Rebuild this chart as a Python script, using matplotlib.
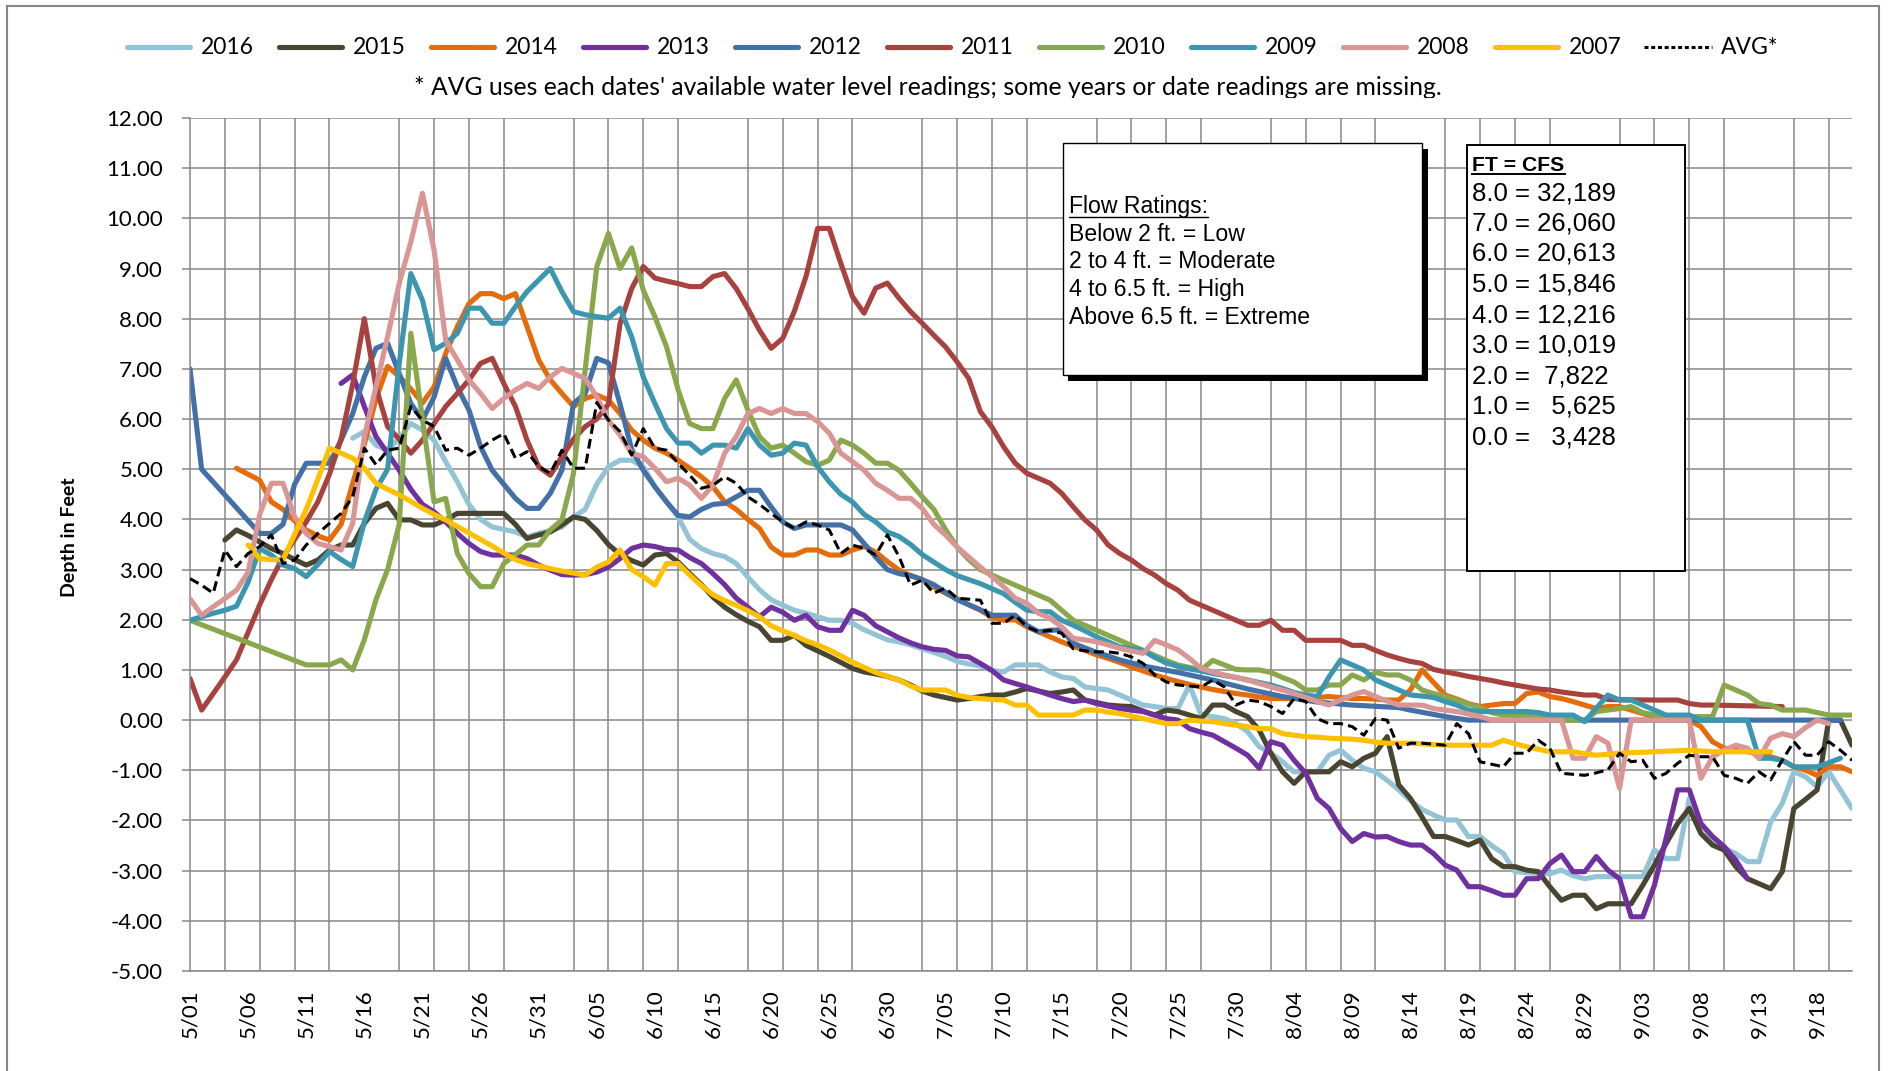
import matplotlib
matplotlib.use("Agg")
import matplotlib.pyplot as plt
from matplotlib.lines import Line2D
from matplotlib.patches import Rectangle
from matplotlib.ticker import MultipleLocator, FormatStrFormatter
from matplotlib.transforms import Bbox, TransformedBbox

plt.rcParams['font.family'] = ['Lato', 'DejaVu Sans']

W, H = 1889, 1071

# x = days after 5/01
tick_days = list(range(0, 141, 5))
tick_labels = ["5/01", "5/06", "5/11", "5/16", "5/21", "5/26", "5/31", "6/05", "6/10",
               "6/15", "6/20", "6/25", "6/30", "7/05", "7/10", "7/15", "7/20", "7/25",
               "7/30", "8/04", "8/09", "8/14", "8/19", "8/24", "8/29", "9/03", "9/08",
               "9/13", "9/18"]

# (day, depth in feet)
s2016 = [(14, 5.62), (15, 5.75), (16, 5.48), (17, 5.38), (18, 5.62), (19, 5.91), (20, 5.78),
         (21, 5.58), (22, 5.15), (23, 4.75), (24, 4.3), (25, 4.0), (26, 3.85), (27, 3.8),
         (28, 3.75), (29, 3.65), (30, 3.72), (31, 3.78), (32, 3.85), (33, 4.05), (34, 4.2),
         (35, 4.7), (36, 5.05), (37, 5.18), (38, 5.18), (39, 5.05), (40, 4.65), (41, 4.35),
         (42, 4.05), (43, 3.6), (44, 3.42), (45, 3.32), (46, 3.26), (47, 3.12), (48, 2.85),
         (49, 2.6), (50, 2.4), (51, 2.29), (52, 2.19), (53, 2.13), (54, 2.06), (55, 1.99),
         (56, 1.99), (57, 1.93), (58, 1.8), (59, 1.7), (60, 1.6), (61, 1.56), (62, 1.5),
         (63, 1.42), (64, 1.35), (65, 1.27), (66, 1.17), (67, 1.12), (68, 1.08), (69, 0.99),
         (70, 0.96), (71, 1.1), (72, 1.1), (73, 1.1), (74, 0.96), (75, 0.86), (76, 0.83),
         (77, 0.66), (78, 0.63), (79, 0.6), (80, 0.5), (81, 0.4), (82, 0.3), (83, 0.27),
         (84, 0.23), (85, 0.23), (86, 0.7), (87, 0.1), (88, 0.07), (89, 0.03), (90, -0.07),
         (91, -0.23), (92, -0.53), (93, -0.66), (94, -0.83), (95, -1.03), (96, -1.03),
         (97, -1.03), (98, -0.7), (99, -0.6), (100, -0.8), (101, -0.96), (102, -1.03),
         (103, -1.2), (104, -1.39), (105, -1.6), (106, -1.78), (107, -1.89), (108, -1.99),
         (109, -1.99), (110, -2.32), (111, -2.32), (112, -2.5), (113, -2.66), (114, -3.02),
         (115, -3.04), (116, -3.06), (117, -3.06), (118, -2.99), (119, -3.1), (120, -3.16),
         (121, -3.12), (122, -3.12), (123, -3.12), (124, -3.12), (125, -3.12), (126, -2.59),
         (127, -2.76), (128, -2.76), (129, -1.56), (130, -2.06), (131, -2.39), (132, -2.55),
         (133, -2.66), (134, -2.82), (135, -2.82), (136, -2.03), (137, -1.66), (138, -1.03),
         (139, -1.13), (140, -1.33), (141, -1.03), (142, -1.39), (143, -1.76)]

s2015 = [(3, 3.59), (4, 3.79), (5, 3.68), (6, 3.55), (7, 3.42), (8, 3.32), (9, 3.2), (10, 3.09),
         (11, 3.19), (12, 3.39), (13, 3.49), (14, 3.49), (15, 3.92), (16, 4.22), (17, 4.32),
         (18, 3.99), (19, 3.99), (20, 3.89), (21, 3.89), (22, 3.99), (23, 4.12), (24, 4.12),
         (25, 4.12), (26, 4.12), (27, 4.12), (28, 3.9), (29, 3.62), (30, 3.69), (31, 3.75),
         (32, 3.89), (33, 4.05), (34, 4.0), (35, 3.78), (36, 3.5), (37, 3.3), (38, 3.18),
         (39, 3.09), (40, 3.29), (41, 3.32), (42, 3.15), (43, 2.92), (44, 2.7), (45, 2.45),
         (46, 2.25), (47, 2.1), (48, 1.97), (49, 1.86), (50, 1.59), (51, 1.59), (52, 1.69),
         (53, 1.49), (54, 1.38), (55, 1.27), (56, 1.15), (57, 1.03), (58, 0.96), (59, 0.92),
         (60, 0.87), (61, 0.8), (62, 0.7), (63, 0.58), (64, 0.5), (65, 0.45), (66, 0.4),
         (67, 0.43), (68, 0.47), (69, 0.5), (70, 0.5), (71, 0.56), (72, 0.63), (73, 0.58),
         (74, 0.53), (75, 0.56), (76, 0.6), (77, 0.4), (78, 0.35), (79, 0.3), (80, 0.28),
         (81, 0.27), (82, 0.18), (83, 0.1), (84, 0.2), (85, 0.17), (86, 0.1), (87, 0.03),
         (88, 0.3), (89, 0.3), (90, 0.17), (91, 0.07), (92, -0.2), (93, -0.66), (94, -1.03),
         (95, -1.26), (96, -1.03), (97, -1.03), (98, -1.03), (99, -0.83), (100, -0.93),
         (101, -0.76), (102, -0.66), (103, -0.33), (104, -1.29), (105, -1.56), (106, -1.93),
         (107, -2.32), (108, -2.32), (109, -2.4), (110, -2.49), (111, -2.39), (112, -2.76),
         (113, -2.92), (114, -2.92), (115, -2.99), (116, -3.02), (117, -3.32), (118, -3.59),
         (119, -3.49), (120, -3.49), (121, -3.76), (122, -3.66), (123, -3.66), (124, -3.66),
         (125, -3.29), (126, -2.89), (127, -2.46), (128, -2.06), (129, -1.76), (130, -2.26),
         (131, -2.49), (132, -2.59), (133, -2.92), (134, -3.16), (135, -3.26), (136, -3.36),
         (137, -3.02), (138, -1.76), (139, -1.58), (140, -1.39), (141, 0.0), (142, 0.0),
         (143, -0.5)]

s2014 = [(4, 5.02), (5, 4.9), (6, 4.78), (7, 4.35), (8, 4.2), (9, 3.97), (10, 3.79), (11, 3.67),
         (12, 3.59), (13, 3.9), (14, 4.72), (15, 5.5), (16, 6.4), (17, 7.05), (18, 6.85),
         (19, 6.6), (20, 6.32), (21, 6.64), (22, 7.31), (23, 7.84), (24, 8.3), (25, 8.5),
         (26, 8.5), (27, 8.4), (28, 8.5), (29, 7.84), (30, 7.18), (31, 6.78), (32, 6.51),
         (33, 6.25), (34, 6.41), (35, 6.48), (36, 6.38), (37, 6.11), (38, 5.78), (39, 5.58),
         (40, 5.42), (41, 5.32), (42, 5.18), (43, 5.02), (44, 4.85), (45, 4.65), (46, 4.35),
         (47, 4.2), (48, 4.0), (49, 3.82), (50, 3.45), (51, 3.29), (52, 3.29), (53, 3.39),
         (54, 3.39), (55, 3.29), (56, 3.29), (57, 3.39), (58, 3.46), (59, 3.35), (60, 3.16),
         (61, 2.99), (62, 2.88), (63, 2.8), (64, 2.65), (65, 2.53), (66, 2.42), (67, 2.3),
         (68, 2.19), (69, 2.05), (70, 1.99), (71, 2.0), (72, 1.86), (73, 1.76), (74, 1.66),
         (75, 1.56), (76, 1.47), (77, 1.39), (78, 1.3), (79, 1.23), (80, 1.15), (81, 1.06),
         (82, 0.98), (83, 0.9), (84, 0.83), (85, 0.77), (86, 0.71), (87, 0.66), (88, 0.61),
         (89, 0.57), (90, 0.53), (91, 0.5), (92, 0.46), (93, 0.43), (94, 0.43), (95, 0.43),
         (96, 0.43), (97, 0.45), (98, 0.47), (99, 0.45), (100, 0.43), (101, 0.43), (102, 0.42),
         (103, 0.4), (104, 0.4), (105, 0.6), (106, 1.0), (107, 0.75), (108, 0.5), (109, 0.42),
         (110, 0.33), (111, 0.27), (112, 0.3), (113, 0.33), (114, 0.33), (115, 0.53),
         (116, 0.56), (117, 0.47), (118, 0.43), (119, 0.37), (120, 0.3), (121, 0.23),
         (122, 0.27), (123, 0.27), (124, 0.2), (125, 0.13), (126, 0.07), (127, 0.04),
         (128, 0.02), (129, 0.0), (130, -0.13), (131, -0.43), (132, -0.56), (133, -0.6),
         (134, -0.63), (135, -0.66), (136, -0.73), (137, -0.8), (138, -0.93), (139, -1.0),
         (140, -1.1), (141, -0.93), (142, -0.93), (143, -1.03)]

s2013 = [(13, 6.71), (14, 6.88), (15, 6.25), (16, 5.65), (17, 5.32), (18, 4.98), (19, 4.6),
         (20, 4.3), (21, 4.15), (22, 3.95), (23, 3.72), (24, 3.52), (25, 3.36), (26, 3.29),
         (27, 3.29), (28, 3.29), (29, 3.22), (30, 3.09), (31, 2.99), (32, 2.9), (33, 2.89),
         (34, 2.9), (35, 2.95), (36, 3.05), (37, 3.22), (38, 3.42), (39, 3.49), (40, 3.46),
         (41, 3.4), (42, 3.39), (43, 3.24), (44, 3.12), (45, 2.92), (46, 2.7), (47, 2.43),
         (48, 2.25), (49, 2.06), (50, 2.25), (51, 2.15), (52, 1.99), (53, 2.09), (54, 1.86),
         (55, 1.79), (56, 1.79), (57, 2.19), (58, 2.09), (59, 1.88), (60, 1.76), (61, 1.64),
         (62, 1.54), (63, 1.46), (64, 1.41), (65, 1.39), (66, 1.28), (67, 1.26), (68, 1.13),
         (69, 0.99), (70, 0.8), (71, 0.73), (72, 0.66), (73, 0.58), (74, 0.5), (75, 0.43),
         (76, 0.37), (77, 0.4), (78, 0.33), (79, 0.28), (80, 0.23), (81, 0.2), (82, 0.17),
         (83, 0.1), (84, 0.03), (85, 0.0), (86, -0.17), (87, -0.24), (88, -0.3), (89, -0.43),
         (90, -0.56), (91, -0.7), (92, -0.96), (93, -0.43), (94, -0.5), (95, -0.8),
         (96, -1.06), (97, -1.56), (98, -1.76), (99, -2.16), (100, -2.42), (101, -2.26),
         (102, -2.33), (103, -2.32), (104, -2.42), (105, -2.49), (106, -2.49), (107, -2.66),
         (108, -2.89), (109, -2.99), (110, -3.32), (111, -3.32), (112, -3.4), (113, -3.49),
         (114, -3.49), (115, -3.16), (116, -3.16), (117, -2.86), (118, -2.69), (119, -3.02),
         (120, -3.02), (121, -2.72), (122, -2.99), (123, -3.16), (124, -3.92), (125, -3.92),
         (126, -3.29), (127, -2.36), (128, -1.39), (129, -1.39), (130, -2.06), (131, -2.32),
         (132, -2.52), (133, -2.79), (134, -3.16)]

s2012 = [(0, 7.0), (1, 5.0), (6, 3.72), (7, 3.72), (8, 3.9), (9, 4.7), (10, 5.12), (11, 5.12),
         (12, 5.12), (13, 5.58), (14, 6.11), (15, 6.84), (16, 7.41), (17, 7.51), (18, 6.91),
         (19, 6.31), (20, 5.98), (21, 6.44), (22, 7.21), (23, 6.64), (24, 6.18), (25, 5.45),
         (26, 4.98), (27, 4.7), (28, 4.42), (29, 4.22), (30, 4.22), (31, 4.52), (32, 4.98),
         (33, 6.31), (34, 6.51), (35, 7.21), (36, 7.12), (37, 6.3), (38, 5.4), (39, 4.98),
         (40, 4.65), (41, 4.35), (42, 4.08), (43, 4.05), (44, 4.2), (45, 4.3), (46, 4.32),
         (47, 4.45), (48, 4.58), (49, 4.58), (50, 4.25), (51, 3.95), (52, 3.82), (53, 3.89),
         (54, 3.89), (55, 3.89), (56, 3.89), (57, 3.79), (58, 3.52), (59, 3.25), (60, 3.0),
         (61, 2.92), (62, 2.88), (63, 2.8), (64, 2.7), (65, 2.55), (66, 2.4), (67, 2.3),
         (68, 2.2), (69, 2.09), (70, 2.09), (71, 2.09), (72, 1.89), (73, 1.76), (74, 1.79),
         (75, 1.8), (76, 1.53), (78, 1.35), (80, 1.2), (82, 1.08), (85, 0.95), (88, 0.8),
         (91, 0.62), (94, 0.47), (97, 0.36), (100, 0.3), (104, 0.25), (105, 0.2), (108, 0.07),
         (110, 0.0), (142, 0.0)]

s2011 = [(0, 0.83), (1, 0.2), (2, 0.53), (3, 0.86), (4, 1.2), (5, 1.75), (6, 2.3), (7, 2.8),
         (8, 3.25), (9, 3.6), (10, 3.95), (11, 4.35), (12, 4.9), (13, 5.6), (14, 6.7), (15, 8.0),
         (16, 6.64), (17, 5.85), (18, 5.6), (19, 5.32), (20, 5.58), (21, 5.91), (22, 6.25),
         (23, 6.51), (24, 6.78), (25, 7.11), (26, 7.21), (27, 6.71), (28, 6.25), (29, 5.58),
         (30, 5.05), (31, 4.88), (32, 5.25), (33, 5.6), (34, 5.85), (35, 6.0), (36, 6.3),
         (37, 7.9), (38, 8.6), (39, 9.04), (40, 8.81), (41, 8.75), (42, 8.7), (43, 8.64),
         (44, 8.64), (45, 8.84), (46, 8.9), (47, 8.6), (48, 8.2), (49, 7.77), (50, 7.41),
         (51, 7.61), (52, 8.15), (53, 8.84), (54, 9.8), (55, 9.8), (56, 9.1), (57, 8.44),
         (58, 8.11), (59, 8.61), (60, 8.71), (61, 8.41), (62, 8.14), (63, 7.91), (64, 7.67),
         (65, 7.44), (66, 7.14), (67, 6.81), (68, 6.15), (69, 5.84), (70, 5.45), (71, 5.12),
         (72, 4.92), (73, 4.82), (74, 4.72), (75, 4.52), (76, 4.25), (77, 3.99), (78, 3.79),
         (79, 3.49), (80, 3.32), (81, 3.19), (82, 3.02), (83, 2.89), (84, 2.72), (85, 2.59),
         (86, 2.39), (87, 2.29), (88, 2.19), (89, 2.09), (90, 1.99), (91, 1.89), (92, 1.89),
         (93, 1.99), (94, 1.79), (95, 1.79), (96, 1.59), (97, 1.59), (98, 1.59), (99, 1.59),
         (100, 1.49), (101, 1.49), (102, 1.39), (103, 1.3), (104, 1.23), (105, 1.17),
         (106, 1.13), (107, 1.01), (108, 0.96), (109, 0.92), (110, 0.87), (111, 0.83),
         (112, 0.79), (113, 0.74), (114, 0.7), (115, 0.66), (116, 0.62), (117, 0.6),
         (118, 0.56), (119, 0.53), (120, 0.5), (121, 0.5), (122, 0.41), (126, 0.4), (128, 0.4),
         (129, 0.33), (130, 0.3), (131, 0.3), (137, 0.27)]

s2010 = [(0, 1.99), (10, 1.1), (11, 1.1), (12, 1.1), (13, 1.2), (14, 1.0), (15, 1.6), (16, 2.4),
         (17, 3.0), (18, 3.9), (19, 7.71), (20, 6.0), (21, 4.35), (22, 4.42), (23, 3.32),
         (24, 2.92), (25, 2.66), (26, 2.66), (27, 3.12), (28, 3.3), (29, 3.49), (30, 3.49),
         (31, 3.79), (32, 3.99), (33, 4.92), (35, 9.04), (36, 9.7), (37, 9.0), (38, 9.41),
         (39, 8.57), (40, 8.04), (41, 7.44), (42, 6.58), (43, 5.91), (44, 5.81), (45, 5.81),
         (46, 6.41), (47, 6.78), (48, 6.18), (49, 5.65), (50, 5.42), (51, 5.48), (52, 5.32),
         (53, 5.15), (54, 5.08), (55, 5.18), (56, 5.58), (57, 5.48), (58, 5.32), (59, 5.12),
         (60, 5.12), (61, 4.98), (62, 4.72), (63, 4.45), (64, 4.2), (65, 3.8), (66, 3.45),
         (67, 3.2), (68, 3.0), (69, 2.89), (70, 2.79), (71, 2.69), (72, 2.59), (73, 2.49),
         (74, 2.39), (75, 2.19), (76, 1.99), (77, 1.89), (78, 1.79), (79, 1.69), (80, 1.59),
         (81, 1.49), (82, 1.39), (83, 1.29), (84, 1.19), (85, 1.1), (86, 1.05), (87, 1.0),
         (88, 1.19), (89, 1.1), (90, 1.01), (91, 1.0), (92, 1.0), (93, 0.95), (94, 0.85),
         (95, 0.76), (96, 0.6), (97, 0.6), (98, 0.7), (99, 0.7), (100, 0.9), (101, 0.8),
         (102, 0.95), (103, 0.9), (104, 0.9), (105, 0.8), (106, 0.6), (107, 0.53), (108, 0.47),
         (109, 0.4), (110, 0.32), (111, 0.25), (112, 0.15), (113, 0.1), (114, 0.1), (115, 0.1),
         (116, 0.1), (117, 0.05), (118, 0.0), (119, 0.0), (120, 0.0), (121, 0.17), (122, 0.2),
         (123, 0.23), (124, 0.27), (125, 0.15), (126, 0.1), (127, 0.07), (128, 0.07),
         (129, 0.07), (130, 0.07), (131, 0.07), (132, 0.7), (133, 0.6), (134, 0.5), (135, 0.33),
         (136, 0.3), (137, 0.2), (138, 0.2), (139, 0.2), (140, 0.15), (141, 0.1), (142, 0.1),
         (143, 0.1)]

s2009 = [(0, 1.99), (1, 2.06), (2, 2.13), (3, 2.19), (4, 2.27), (5, 2.75), (6, 3.42), (7, 3.29),
         (8, 3.09), (9, 3.02), (10, 2.86), (11, 3.1), (12, 3.36), (13, 3.2), (14, 3.06),
         (15, 3.95), (16, 4.6), (17, 5.0), (18, 7.1), (19, 8.9), (20, 8.37), (21, 7.38),
         (22, 7.51), (23, 7.71), (24, 8.21), (25, 8.21), (26, 7.91), (27, 7.91), (28, 8.24),
         (29, 8.54), (30, 8.77), (31, 9.0), (32, 8.54), (33, 8.14), (34, 8.08), (35, 8.04),
         (36, 8.01), (37, 8.21), (38, 7.64), (39, 6.84), (40, 6.31), (41, 5.81), (42, 5.52),
         (43, 5.52), (44, 5.32), (45, 5.48), (46, 5.48), (47, 5.42), (48, 5.81), (49, 5.48),
         (50, 5.28), (51, 5.32), (52, 5.52), (53, 5.48), (54, 5.05), (55, 4.75), (56, 4.5),
         (57, 4.35), (58, 4.1), (59, 3.95), (60, 3.75), (61, 3.66), (62, 3.5), (63, 3.3),
         (64, 3.15), (65, 3.0), (66, 2.88), (67, 2.8), (68, 2.72), (69, 2.62), (70, 2.52),
         (71, 2.35), (72, 2.19), (73, 2.16), (74, 2.16), (75, 1.99), (76, 1.89), (77, 1.78),
         (78, 1.66), (79, 1.56), (80, 1.46), (81, 1.42), (82, 1.39), (83, 1.25), (84, 1.14),
         (85, 1.07), (86, 1.02), (87, 0.98), (88, 0.93), (89, 0.89), (90, 0.85), (91, 0.8),
         (92, 0.75), (93, 0.7), (94, 0.63), (95, 0.55), (96, 0.5), (97, 0.47), (98, 0.86),
         (99, 1.2), (100, 1.1), (101, 1.0), (102, 0.8), (103, 0.7), (104, 0.6), (105, 0.5),
         (106, 0.48), (107, 0.45), (108, 0.37), (109, 0.3), (110, 0.2), (111, 0.17),
         (115, 0.17), (116, 0.15), (117, 0.1), (119, 0.1), (120, -0.03), (121, 0.24),
         (122, 0.5), (123, 0.4), (124, 0.4), (125, 0.3), (126, 0.2), (127, 0.1), (129, 0.1),
         (130, 0.0), (134, 0.0), (135, -0.76), (136, -0.76), (137, -0.8), (138, -0.93),
         (140, -0.93), (141, -0.85), (142, -0.76)]

s2008 = [(0, 2.42), (1, 2.09), (2, 2.26), (3, 2.42), (4, 2.59), (5, 2.95), (6, 4.1), (7, 4.72),
         (8, 4.72), (9, 4.05), (10, 3.72), (11, 3.52), (12, 3.46), (13, 3.39), (14, 3.92),
         (15, 5.65), (16, 6.64), (17, 7.64), (18, 8.7), (19, 9.53), (20, 10.5), (21, 9.37),
         (22, 7.57), (23, 7.18), (24, 6.78), (25, 6.51), (26, 6.21), (27, 6.41), (28, 6.58),
         (29, 6.71), (30, 6.61), (31, 6.84), (32, 7.01), (33, 6.91), (34, 6.81), (35, 6.44),
         (36, 5.98), (37, 5.68), (38, 5.32), (39, 5.25), (40, 5.02), (41, 4.75), (42, 4.82),
         (43, 4.68), (44, 4.42), (45, 4.68), (46, 5.32), (47, 5.65), (48, 6.11), (49, 6.21),
         (50, 6.11), (51, 6.21), (52, 6.11), (53, 6.11), (54, 5.95), (55, 5.72), (56, 5.32),
         (57, 5.15), (58, 4.98), (59, 4.72), (60, 4.58), (61, 4.42), (62, 4.42), (63, 4.22),
         (64, 3.9), (65, 3.69), (66, 3.45), (67, 3.25), (68, 3.05), (69, 2.86), (70, 2.66),
         (71, 2.43), (72, 2.33), (73, 2.13), (74, 2.03), (75, 1.86), (76, 1.63), (77, 1.6),
         (78, 1.56), (79, 1.5), (80, 1.43), (81, 1.38), (82, 1.33), (83, 1.59), (84, 1.5),
         (85, 1.4), (86, 1.23), (87, 1.03), (88, 0.96), (89, 0.9), (90, 0.85), (91, 0.8),
         (92, 0.73), (93, 0.66), (94, 0.6), (95, 0.53), (96, 0.45), (97, 0.37), (98, 0.3),
         (99, 0.4), (100, 0.5), (101, 0.57), (102, 0.47), (103, 0.38), (104, 0.3), (105, 0.3),
         (106, 0.3), (107, 0.23), (108, 0.2), (109, 0.17), (110, 0.12), (111, 0.07), (112, 0.0),
         (118, 0.0), (119, -0.76), (120, -0.76), (121, -0.33), (122, -0.46), (123, -1.36),
         (124, 0.0), (129, 0.0), (130, -1.16), (131, -0.73), (132, -0.6), (133, -0.5),
         (134, -0.56), (135, -0.76), (136, -0.36), (137, -0.27), (138, -0.33), (139, -0.15),
         (140, 0.0), (141, -0.07)]

s2007 = [(5, 3.49), (6, 3.22), (7, 3.2), (8, 3.2), (9, 3.7), (10, 4.2), (11, 4.8), (12, 5.42),
         (13, 5.32), (14, 5.22), (15, 5.02), (16, 4.72), (17, 4.6), (18, 4.49), (19, 4.36),
         (20, 4.22), (21, 4.1), (22, 3.99), (23, 3.86), (24, 3.73), (25, 3.6), (26, 3.47),
         (27, 3.33), (28, 3.2), (29, 3.12), (30, 3.07), (31, 3.02), (32, 2.97), (33, 2.93),
         (34, 2.89), (35, 3.05), (36, 3.15), (37, 3.39), (38, 3.0), (39, 2.86), (40, 2.69),
         (41, 3.12), (42, 3.12), (43, 2.89), (44, 2.68), (45, 2.5), (46, 2.38), (47, 2.29),
         (48, 2.18), (49, 2.06), (50, 1.88), (51, 1.78), (52, 1.69), (53, 1.58), (54, 1.5),
         (55, 1.4), (56, 1.28), (57, 1.16), (58, 1.05), (59, 0.95), (60, 0.87), (61, 0.8),
         (62, 0.68), (63, 0.6), (64, 0.6), (65, 0.6), (66, 0.5), (67, 0.45), (68, 0.43),
         (69, 0.41), (70, 0.4), (71, 0.3), (72, 0.3), (73, 0.1), (74, 0.1), (75, 0.1), (76, 0.1),
         (77, 0.2), (78, 0.2), (79, 0.16), (80, 0.13), (81, 0.08), (82, 0.03), (83, -0.02),
         (84, -0.07), (85, -0.07), (86, 0.0), (87, -0.02), (88, -0.03), (89, -0.07), (90, -0.1),
         (91, -0.13), (92, -0.17), (93, -0.17), (94, -0.27), (95, -0.3), (96, -0.33),
         (97, -0.34), (98, -0.36), (99, -0.37), (100, -0.38), (101, -0.4), (102, -0.44),
         (103, -0.46), (105, -0.46), (108, -0.5), (112, -0.5), (113, -0.4), (114, -0.47),
         (115, -0.53), (116, -0.58), (117, -0.63), (119, -0.63), (120, -0.67), (121, -0.7),
         (123, -0.66), (126, -0.63), (129, -0.6), (131, -0.63), (136, -0.63)]

s_avg = [(0, 2.82), (1, 2.69), (2, 2.53), (3, 3.39), (4, 3.06), (5, 3.32), (6, 3.46), (7, 3.69),
         (8, 3.12), (9, 3.19), (10, 3.49), (11, 3.72), (12, 3.92), (13, 4.12), (14, 4.45),
         (15, 5.42), (16, 5.09), (17, 5.38), (18, 5.42), (19, 6.25), (20, 5.98), (21, 5.85),
         (22, 5.38), (23, 5.42), (24, 5.28), (25, 5.42), (26, 5.58), (27, 5.71), (28, 5.22),
         (29, 5.35), (30, 5.05), (31, 4.92), (32, 5.38), (33, 5.02), (34, 5.02), (35, 6.33),
         (36, 5.98), (37, 5.75), (38, 5.28), (39, 5.81), (40, 5.42), (41, 5.38), (42, 5.12),
         (43, 4.88), (44, 4.62), (45, 4.68), (46, 4.85), (47, 4.72), (48, 4.45), (49, 4.3),
         (50, 4.12), (51, 3.95), (52, 3.82), (53, 3.95), (54, 3.89), (55, 3.79), (56, 3.32),
         (57, 3.49), (58, 3.42), (59, 3.29), (60, 3.69), (61, 3.26), (62, 2.69), (63, 2.79),
         (64, 2.53), (65, 2.63), (66, 2.43), (67, 2.41), (68, 2.39), (69, 1.93), (70, 1.93),
         (71, 2.09), (72, 1.86), (73, 1.76), (74, 1.79), (75, 1.73), (76, 1.42), (77, 1.38),
         (78, 1.36), (79, 1.36), (80, 1.33), (81, 1.26), (82, 1.13), (83, 0.9), (84, 0.76),
         (85, 0.7), (86, 0.68), (87, 0.66), (88, 0.8), (89, 0.66), (90, 0.3), (91, 0.4),
         (92, 0.37), (93, 0.27), (94, 0.13), (95, 0.43), (96, 0.37), (97, 0.03), (98, -0.07),
         (99, -0.07), (100, -0.13), (101, -0.3), (102, 0.03), (103, 0.0), (104, -0.56),
         (105, -0.46), (106, -0.46), (107, -0.48), (108, -0.5), (109, -0.07), (110, -0.27),
         (111, -0.83), (112, -0.88), (113, -0.93), (114, -0.66), (115, -0.66), (116, -0.4),
         (117, -0.56), (118, -1.06), (119, -1.08), (120, -1.1), (121, -1.05), (122, -0.99),
         (123, -0.66), (124, -0.83), (125, -0.8), (126, -1.16), (127, -1.06), (128, -0.86),
         (129, -0.7), (130, -0.73), (131, -0.73), (132, -1.1), (133, -1.16), (134, -1.26),
         (135, -1.03), (136, -1.19), (137, -0.8), (138, -0.43), (139, -0.7), (140, -0.7),
         (141, -0.43), (142, -0.6), (143, -0.8)]

series_names = ["2016", "2015", "2014", "2013", "2012", "2011", "2010", "2009", "2008", "2007"]
series_data = [s2016, s2015, s2014, s2013, s2012, s2011, s2010, s2009, s2008, s2007]
series_colors = ["#93C4D6", "#4A4530", "#E46C0A", "#7030A0", "#4470A8", "#A8423F",
                 "#88A84B", "#3C96AF", "#D99694", "#FFC000"]

flow_lines = ["Below 2 ft. = Low", "2 to 4 ft. = Moderate", "4 to 6.5 ft. = High",
              "Above 6.5 ft. = Extreme"]
cfs_lines = ["8.0 = 32,189", "7.0 = 26,060", "6.0 = 20,613", "5.0 = 15,846", "4.0 = 12,216",
             "3.0 = 10,019", "2.0 =  7,822", "1.0 =   5,625", "0.0 =   3,428"]

GRID = "#878787"
LW = 3.7


def fx(px):
    return px / W


def fy(py):
    return 1 - py / H


fig = plt.figure(figsize=(W / 100, H / 100), dpi=100)
ax = fig.add_axes([fx(190), fy(971), (1852 - 190) / W, (971 - 118) / H])

for i, (name, pts, col) in enumerate(zip(series_names, series_data, series_colors)):
    xs, ys = zip(*pts)
    ax.plot(xs, ys, color=col, lw=LW, solid_capstyle="round", solid_joinstyle="round",
            zorder=2 + i * 0.1)
xs, ys = zip(*s_avg)
ax.plot(xs, ys, color="black", lw=2.2, dashes=(3.2, 1.7), dash_capstyle="butt", zorder=4)

ax.set_xlim(0, 143)
ax.set_ylim(-5, 12)
ax.set_xticks(tick_days)
ax.set_xticklabels(tick_labels, rotation=90, fontsize=16)
ax.xaxis.set_minor_locator(MultipleLocator(3))
ax.yaxis.set_major_locator(MultipleLocator(1))
ax.yaxis.set_major_formatter(FormatStrFormatter("%.2f"))
ax.tick_params(axis="x", which="both", length=0, pad=13)
ax.tick_params(axis="y", which="major", length=5.8, width=1.1, color=GRID, pad=13.5,
               labelsize=16)
ax.tick_params(axis="y", which="minor", length=0)
ax.grid(axis="x", which="minor", color=GRID, lw=1.1)
ax.grid(axis="y", which="major", color=GRID, lw=1.1)
ax.set_axisbelow(True)
for side in ["top", "right"]:
    ax.spines[side].set_visible(False)
for side in ["left", "bottom"]:
    ax.spines[side].set_color(GRID)
    ax.spines[side].set_linewidth(1.1)

fig.text(fx(69), fy(537), "Depth in Feet", rotation=90, fontsize=14, fontweight="bold",
         ha="center", va="center")

# legend across the top
for i, (name, col) in enumerate(zip(series_names + ["AVG*"], series_colors + ["black"])):
    x0 = 124 + i * 152
    if name == "AVG*":
        fig.add_artist(Line2D([fx(x0), fx(x0 + 68)], [fy(47), fy(47)], color="black", lw=2.2,
                              dashes=(1.3, 0.9), dash_capstyle="butt"))
    else:
        fig.add_artist(Line2D([fx(x0 + 3), fx(x0 + 66)], [fy(47), fy(47)], color=col, lw=LW,
                              solid_capstyle="round"))
    fig.text(fx(x0 + 77), fy(47), name, fontsize=16.5, ha="left", va="center")

note = fig.text(fx(928), fy(95), "* AVG uses each dates' available water level readings; "
                "some years or date readings are missing.", fontsize=17.8, ha="center",
                va="baseline")
note.set_clip_box(TransformedBbox(Bbox([[0, fy(98)], [1, 1]]), fig.transFigure))
note.set_clip_on(True)

# Flow ratings box with drop shadow
fig.add_artist(Rectangle((fx(1068.2), fy(380.5)), (1422.3 - 1062.7) / W, (375 - 143.3) / H,
                         facecolor="black", edgecolor="none", zorder=5))
fig.add_artist(Rectangle((fx(1062.7), fy(375)), (1422.3 - 1062.7) / W, (375 - 143.3) / H,
                         facecolor="white", edgecolor="black", lw=1.0, zorder=6))
flow_title = fig.text(fx(1069.3), fy(213.5), "Flow Ratings:", fontsize=16.6,
                      family=["Liberation Sans", "DejaVu Sans"], va="baseline", zorder=7)
for k, line in enumerate(flow_lines):
    fig.text(fx(1069.3), fy(241 + k * 27.5), line, fontsize=16.6,
             family=["Liberation Sans", "DejaVu Sans"], va="baseline", zorder=7)

# FT = CFS box
fig.add_artist(Rectangle((fx(1466.7), fy(570.7)), (1685 - 1466.7) / W, (570.7 - 145) / H,
                         facecolor="white", edgecolor="black", lw=1.4, zorder=6))
cfs_title = fig.text(fx(1472.3), fy(170.7), "FT = CFS", fontsize=15.2, fontweight="bold",
                     family=["Liberation Sans", "DejaVu Sans"], va="baseline", zorder=7)
for k, line in enumerate(cfs_lines):
    fig.text(fx(1472.3), fy(200 + k * 30.5), line, fontsize=18.5,
             family=["Liberation Sans", "DejaVu Sans"], va="baseline", zorder=7)

# underline the two box titles
renderer = fig.canvas.get_renderer()
for t, ypx, lw in [(flow_title, 216.5, 1.0), (cfs_title, 173.5, 1.4)]:
    bb = t.get_window_extent(renderer)
    fig.add_artist(Line2D([bb.x0 / W, bb.x1 / W], [fy(ypx), fy(ypx)], color="black", lw=lw,
                          zorder=7))

# chart area border
fig.add_artist(Rectangle((fx(6.5), fy(1080)), (1879 - 6.5) / W, (1080 - 6) / H,
                         facecolor="none", edgecolor=GRID, lw=1.5, zorder=0))

fig.savefig("out.png", dpi=100)
